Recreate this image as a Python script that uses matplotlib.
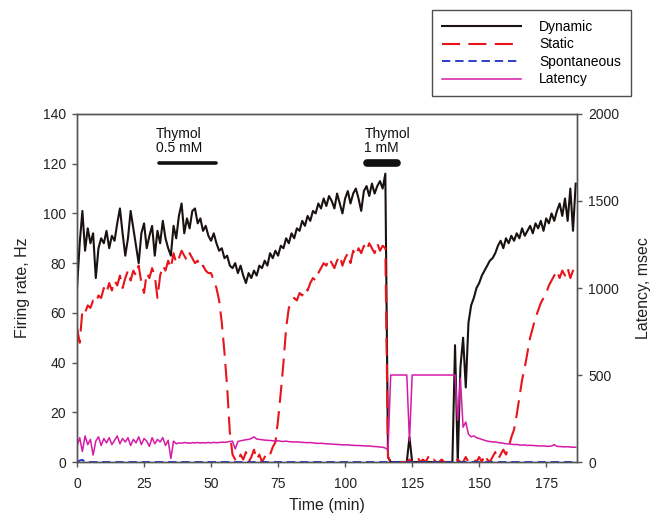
import numpy as np
import matplotlib
matplotlib.use("Agg")
import matplotlib.pyplot as plt

plt.rcParams['font.family'] = ['Liberation Sans', 'DejaVu Sans']
plt.rcParams['lines.scale_dashes'] = False

# ---- data (1-min sampling, t = 0..186 min) ----
time_min = np.arange(0, 187)

dynamic_hz = [
    70, 88, 101, 85, 94, 88, 92, 74, 86, 90,
    88, 93, 86, 91, 89, 96, 102, 92, 83, 90,
    101, 94, 87, 80, 92, 96, 86, 91, 95, 83,
    93, 88, 97, 90, 86, 83, 95, 90, 99, 104,
    92, 98, 94, 101, 102, 96, 98, 93, 95, 91,
    89, 92, 88, 85, 86, 82, 83, 79, 78, 80,
    76, 79, 75, 72, 76, 74, 77, 75, 79, 78,
    81, 79, 84, 82, 85, 83, 87, 86, 90, 88,
    92, 90, 94, 93, 97, 95, 99, 97, 101, 100,
    104, 102, 106, 103, 107, 105, 102, 108, 104, 100,
    106, 109, 104, 108, 110, 106, 101, 109, 111, 107,
    112, 108, 111, 113, 110, 116, 2, 0, 0, 0,
    0, 0, 0, 0, 10, 0, 0, 0, 0, 0,
    0, 0, 0, 0, 0, 0, 0, 0, 0, 0,
    0, 47, 0, 38, 50, 30, 56, 63, 66, 70,
    72, 75, 77, 79, 81, 82, 84, 87, 89, 86,
    90, 88, 91, 89, 92, 90, 94, 91, 93, 95,
    92, 96, 94, 97, 93, 98, 96, 100, 97, 101,
    104, 99, 106, 97, 110, 93, 112,
]

static_hz = [
    54, 48, 61, 60, 63, 62, 65, 64, 67, 66,
    70, 68, 72, 69, 73, 71, 75, 70, 74, 77,
    73, 77, 75, 79, 72, 68, 76, 74, 78, 75,
    66, 75, 79, 77, 81, 78, 84, 80, 82, 85,
    83, 81, 84, 82, 80, 81, 78, 79, 77, 76,
    76, 73, 70, 65, 56, 44, 30, 12, 3, 1,
    0, 3, 1, 4, 0, 2, 5, 1, 3, 0,
    2, 4, 3, 6, 8, 17, 28, 40, 54, 62,
    64, 66, 65, 68, 67, 70, 69, 72, 74, 73,
    76, 78, 80, 79, 82, 80, 78, 81, 83, 79,
    82, 84, 80, 85, 83, 86, 84, 87, 85, 88,
    86, 84, 88, 85, 87, 86, 2, 0, 0, 0,
    0, 0, 0, 0, 1, 0, 0, 2, 0, 1,
    0, 2, 0, 1, 0, 0, 1, 0, 0, 0,
    0, 0, 1, 0, 0, 2, 0, 0, 1, 0,
    2, 0, 3, 1, 0, 2, 4, 1, 3, 5,
    3, 6, 10, 13, 19, 26, 33, 38, 44, 50,
    54, 58, 61, 64, 66, 68, 71, 73, 75, 77,
    74, 77, 75, 78, 74, 77, 78,
]

spontaneous_hz = [0, 0.6, 0.9] + [0] * 184

latency_ms = [
    90, 140, 60, 150, 100, 130, 40, 120, 145, 95,
    135, 110, 140, 100, 125, 150, 105, 135, 115, 140,
    95, 130, 110, 145, 100, 135, 120, 90, 140, 105,
    130, 115, 140, 95, 125, 20, 120, 105, 110, 108,
    112, 110, 108, 111, 110, 112, 109, 111, 110, 112,
    110, 113, 111, 112, 114, 113, 115, 118, 120, 75,
    118, 122, 125, 128, 130, 135, 145, 132, 130, 128,
    126, 125, 124, 122, 120, 122, 119, 118, 120, 117,
    116, 115, 116, 114, 113, 112, 111, 112, 110, 108,
    107, 108, 106, 105, 104, 103, 102, 101, 100, 99,
    98, 99, 97, 96, 95, 95, 94, 93, 92, 92,
    90, 89, 88, 86, 85, 80, 70, 500, 500, 500,
    500, 500, 500, 500, 120, 500, 500, 500, 500, 500,
    500, 500, 500, 500, 500, 500, 500, 500, 500, 500,
    500, 500, 240, 480, 200, 230, 160, 145, 150, 140,
    135, 130, 125, 120, 118, 115, 116, 112, 110, 108,
    105, 104, 102, 100, 101, 98, 97, 98, 95, 96,
    95, 94, 93, 92, 93, 91, 90, 92, 100, 90,
    89, 88, 87, 88, 86, 85, 85,
]

series_labels = ["Dynamic", "Static", "Spontaneous", "Latency"]
treatments = [("Thymol\n0.5 mM", 30.5, 52.0, 2.6), ("Thymol\n1 mM", 108.2, 119.2, 5.5)]
treat_level = 120.3

# ---- figure ----
fig = plt.figure(figsize=(6.6, 5.2), dpi=100)
ax = fig.add_axes([0.1167, 0.1115, 0.7576, 0.6693])
ax2 = ax.twinx()

c_dyn = '#1a1210'
c_sta = '#e8141b'
c_spo = '#1b2fc4'
c_lat = '#d61aa6'

l_dyn, = ax.plot(time_min, dynamic_hz, color=c_dyn, lw=1.5, zorder=3)
l_sta, = ax.plot(time_min, static_hz, color=c_sta, lw=1.5, dashes=(13, 6), zorder=4)
l_spo, = ax.plot(time_min, spontaneous_hz, color=c_spo, lw=1.3, dashes=(6, 3.5), zorder=5)
l_lat, = ax2.plot(time_min, latency_ms, color=c_lat, lw=1.1)

ax.set_xlim(0, 186.5)
ax.set_ylim(0, 140)
ax2.set_ylim(0, 2000)
ax.set_xticks(np.arange(0, 176, 25))
ax.set_yticks(np.arange(0, 141, 20))
ax2.set_yticks(np.arange(0, 2001, 500))

spine_c = '#555555'
for a in (ax, ax2):
    for s in a.spines.values():
        s.set_color(spine_c)
        s.set_linewidth(1.0)
    a.tick_params(direction='out', length=3.6, width=1.0, color=spine_c,
                  labelsize=10, labelcolor='#222222', pad=4.5)
ax.tick_params(axis='x', pad=7.5)

ax.set_xlabel("Time (min)", fontsize=11.5, color='#222222', labelpad=5)
ax.set_ylabel("Firing rate, Hz", fontsize=11.5, color='#222222', labelpad=9)
ax2.set_ylabel("Latency, msec", fontsize=11.5, color='#222222', labelpad=12)

for text, t0, t1, lw in treatments:
    ax.plot([t0, t1], [treat_level, treat_level], color='#111111', lw=lw,
            solid_capstyle='round', zorder=6, clip_on=False)
    ax.text(t0 - 1.0, treat_level + 3.0, text, fontsize=10, ha='left', va='bottom',
            color='#111111', linespacing=1.05)

leg = fig.legend([l_dyn, l_sta, l_spo, l_lat], series_labels,
                 loc='upper left', bbox_to_anchor=(432 / 660, 1 - 10 / 520),
                 fontsize=10, frameon=True, fancybox=False, edgecolor='#222222',
                 handlelength=5.7, handletextpad=1.3, labelspacing=0.25,
                 borderpad=0.72, borderaxespad=0.0)
leg.get_frame().set_linewidth(1.0)

fig.savefig("out.png", dpi=100, facecolor='white')
